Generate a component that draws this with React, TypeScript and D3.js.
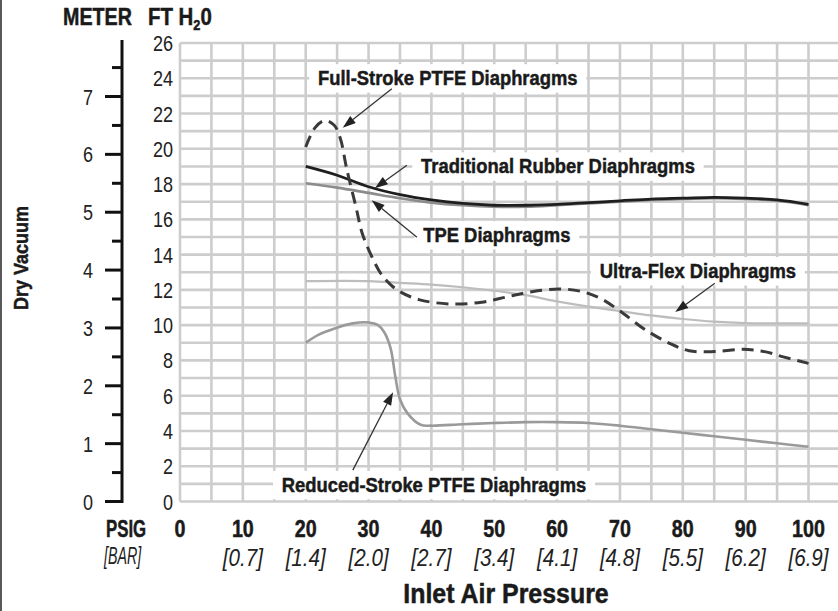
import React, { useEffect, useRef } from 'react';
import * as d3 from 'd3';

// Inlet air pressure (PSIG) vs dry vacuum (FT H2O)
const traditionalPsi = [20, 25, 30, 35, 40, 45, 50, 55, 60, 65, 70, 75, 80, 85, 90, 95, 100];
const traditionalFt = [19.0, 18.5, 17.85, 17.4, 17.1, 16.9, 16.8, 16.8, 16.85, 16.95, 17.05, 17.15, 17.2, 17.25, 17.2, 17.1, 16.85];

const tpePsi = [20, 25, 30, 35, 40, 45, 50, 55, 60, 65, 70, 75, 80, 85, 90, 95, 100];
const tpeFt = [18.05, 17.8, 17.5, 17.2, 16.95, 16.8, 16.72, 16.72, 16.8, 16.9, 17.0, 17.1, 17.15, 17.2, 17.15, 17.05, 16.8];

const fullStrokePsi = [20, 21.5, 23, 24.5, 25.5, 26.5, 28, 29, 30.5, 32, 33.5, 35, 38, 43, 48, 52, 56, 60.5, 64, 67, 70, 74, 78, 81, 85, 89.5, 93, 96, 100];
const fullStrokeFt = [20.1, 21.2, 21.6, 21.35, 20.6, 18.9, 16.7, 15.2, 13.9, 12.9, 12.3, 11.9, 11.45, 11.2, 11.3, 11.6, 11.9, 12.05, 11.9, 11.5, 10.8, 9.75, 8.95, 8.55, 8.5, 8.63, 8.5, 8.2, 7.83];

const ultraFlexPsi = [20, 30, 35, 40, 45, 50, 55, 60, 65, 70, 75, 80, 85, 90, 95, 100];
const ultraFlexFt = [12.5, 12.5, 12.4, 12.3, 12.15, 11.95, 11.7, 11.35, 11.05, 10.8, 10.55, 10.35, 10.2, 10.12, 10.1, 10.1];

const reducedPsi = [20, 22, 24.5, 27.5, 30, 31.5, 32.5, 33.5, 34.3, 35, 36.2, 38.3, 40, 45, 50, 55, 60, 65, 70, 75, 80, 85, 90, 95, 100];
const reducedFt = [9.0, 9.45, 9.8, 10.1, 10.15, 10.0, 9.6, 8.7, 7.0, 5.8, 5.0, 4.35, 4.3, 4.38, 4.45, 4.5, 4.5, 4.45, 4.3, 4.1, 3.9, 3.7, 3.5, 3.3, 3.1];

const psiTicks = [0, 10, 20, 30, 40, 50, 60, 70, 80, 90, 100];
const barTicks = ['', '[0.7]', '[1.4]', '[2.0]', '[2.7]', '[3.4]', '[4.1]', '[4.8]', '[5.5]', '[6.2]', '[6.9]'];
const ftTicks = [0, 2, 4, 6, 8, 10, 12, 14, 16, 18, 20, 22, 24, 26];
const meterTicks = [0, 1, 2, 3, 4, 5, 6, 7];

const FT_PER_M = 3.28084;
const FONT = "'Liberation Sans', Arial, sans-serif";

const App: React.FC = () => {
  const svgRef = useRef<SVGSVGElement>(null);

  useEffect(() => {
    document.body.style.margin = '0';
    if (!svgRef.current) return;
    const width = 838;
    const height = 611;
    const svg = d3.select(svgRef.current);
    svg.selectAll('*').remove();

    const x = d3.scaleLinear().domain([0, 100]).range([180, 808.5]);
    const y = d3.scaleLinear().domain([0, 26]).range([501.5, 43]);
    const yM = d3.scaleLinear().domain([0, 26 / FT_PER_M]).range([501.5, 43]);

    svg.append('rect').attr('width', width).attr('height', height).attr('fill', '#fff');
    svg.append('line').attr('x1', 1).attr('x2', 1).attr('y1', 0).attr('y2', height).attr('stroke', '#222').attr('stroke-width', 1.5);

    const g = svg.append('g');

    // condensed look: plain Liberation Sans squeezed horizontally
    const txt = (parent: any, s: string | number, px: number, py: number, size: number, opts: any = {}) => {
      const t = parent.append('text')
        .attr('transform', `translate(${px},${py})${opts.rotate ? ' rotate(-90)' : ''} scale(${opts.sx || 0.84},1)`)
        .attr('font-family', FONT).attr('font-size', size)
        .attr('font-weight', opts.bold ? 'bold' : 'normal')
        .attr('font-style', opts.italic ? 'italic' : 'normal')
        .attr('text-anchor', opts.anchor || 'start')
        .attr('fill', opts.fill || '#1a1a1a')
        .text(s);
      if (opts.bold) t.attr('stroke', opts.fill || '#1a1a1a').attr('stroke-width', 0.5);
      return t;
    };

    // grid
    const grid = g.append('g').attr('stroke', '#cdcdcd').attr('stroke-width', 2.6);
    d3.range(0, 106, 5).forEach(p => {
      grid.append('line').attr('x1', x(p)).attr('x2', x(p)).attr('y1', y(26)).attr('y2', y(0));
    });
    d3.range(0, 27, 1).forEach(f => {
      grid.append('line').attr('x1', x(0)).attr('x2', width).attr('y1', y(f)).attr('y2', y(f));
    });

    // series
    const line = d3.line<[number, number]>().x(d => x(d[0])).y(d => y(d[1])).curve(d3.curveCatmullRom.alpha(0.5));
    const zip = (a: number[], b: number[]) => a.map((v, i) => [v, b[i]] as [number, number]);

    const series = [
      { pts: zip(ultraFlexPsi, ultraFlexFt), color: '#bdbdbd', w: 2.2, dash: null },
      { pts: zip(reducedPsi, reducedFt), color: '#9a9a9a', w: 2.6, dash: null },
      { pts: zip(tpePsi, tpeFt), color: '#8c8c8c', w: 2.6, dash: null },
      { pts: zip(traditionalPsi, traditionalFt), color: '#1e1e1e', w: 2.8, dash: null },
      { pts: zip(fullStrokePsi, fullStrokeFt), color: '#3a3a3a', w: 3, dash: '12,7' },
    ];
    series.forEach(s => {
      const p = g.append('path').datum(s.pts)
        .attr('fill', 'none').attr('stroke', s.color).attr('stroke-width', s.w)
        .attr('stroke-linecap', 'butt').attr('d', line);
      if (s.dash) p.attr('stroke-dasharray', s.dash);
    });

    // annotations: text anchor and arrow in data coords
    const notes = [
      { text: 'Full-Stroke PTFE Diaphragms', at: [21.96, 23.6], from: [33.7, 23.4], to: [25.9, 21.2] },
      { text: 'Traditional Rubber Diaphragms', at: [38.35, 18.6], from: [36.1, 19.07], to: [31.0, 17.76] },
      { text: 'TPE Diaphragms', at: [38.7, 14.7], from: [37.7, 14.99], to: [30.5, 17.08] },
      { text: 'Ultra-Flex Diaphragms', at: [66.8, 12.66], from: [85.1, 12.38], to: [78.8, 10.74] },
      { text: 'Reduced-Stroke PTFE Diaphragms', at: [16.2, 0.54], from: [27.5, 1.78], to: [33.9, 6.2] },
    ];
    const SX = 0.876;
    notes.forEach(n => {
      const ng = g.append('g').attr('transform', `translate(${x(n.at[0])},${y(n.at[1])}) scale(${SX},1)`);
      const box = ng.append('rect').attr('fill', '#fff');
      const t = ng.append('text')
        .attr('font-family', FONT).attr('font-weight', 'bold').attr('font-size', 21)
        .attr('fill', '#1a1a1a').attr('stroke', '#1a1a1a').attr('stroke-width', 0.5).text(n.text);
      const bb = (t.node() as SVGTextElement).getBBox();
      box.attr('x', bb.x - 10).attr('y', bb.y - 2).attr('width', bb.width + 20).attr('height', bb.height + 5)
        .attr('stroke', 'none');

      const x1 = x(n.from[0]), y1 = y(n.from[1]), x2 = x(n.to[0]), y2 = y(n.to[1]);
      const ang = Math.atan2(y2 - y1, x2 - x1);
      const L = 13, hw = 4.5;
      const bx = x2 - L * Math.cos(ang), by = y2 - L * Math.sin(ang);
      g.append('line').attr('x1', x1).attr('y1', y1).attr('x2', bx).attr('y2', by)
        .attr('stroke', '#333').attr('stroke-width', 1.3);
      g.append('path')
        .attr('d', `M${x2},${y2} L${bx + hw * Math.sin(ang)},${by - hw * Math.cos(ang)} L${bx - hw * Math.sin(ang)},${by + hw * Math.cos(ang)} Z`)
        .attr('fill', '#222');
    });

    // FT H2O axis labels
    ftTicks.forEach(d => txt(g, d, 173, y(d) + 8, 22, { anchor: 'end', sx: 0.82, fill: '#222' }));

    // METER axis
    const mx = 122;
    g.append('line').attr('x1', mx).attr('x2', mx).attr('y1', 40).attr('y2', yM(0) + 1.5)
      .attr('stroke', '#111').attr('stroke-width', 3);
    d3.range(0, 8, 0.5).forEach(m => {
      const major = m % 1 === 0;
      g.append('line').attr('x1', major ? 105 : 112).attr('x2', mx).attr('y1', yM(m)).attr('y2', yM(m))
        .attr('stroke', '#111').attr('stroke-width', 3);
    });
    meterTicks.forEach(d => txt(g, d, 93, yM(d) + 8, 22, { anchor: 'end', sx: 0.82, fill: '#222' }));

    // X axis labels
    psiTicks.forEach(d => txt(g, d, x(d), 537, 24, { bold: true, anchor: 'middle', sx: 0.82 }));
    barTicks.forEach((d, i) => txt(g, d, x(psiTicks[i]), 566, 24, { italic: true, anchor: 'middle', sx: 0.86, fill: '#222' }));

    txt(g, 'PSIG', 106, 537, 24, { bold: true, sx: 0.7 });
    txt(g, '[BAR]', 104, 564, 23, { italic: true, sx: 0.62, fill: '#222' });
    txt(g, 'Inlet Air Pressure', 506, 603, 28, { bold: true, anchor: 'middle', sx: 0.89 });
    txt(g, 'METER', 63, 25, 24, { bold: true, sx: 0.82 });
    txt(g, 'Dry Vacuum', 28, 258, 20, { bold: true, anchor: 'middle', rotate: true, sx: 0.9 });

    const ft = txt(g, '', 148, 25, 24, { bold: true, sx: 0.85 });
    ft.append('tspan').text('FT H');
    ft.append('tspan').attr('font-size', 15).attr('dy', 5).text('2');
    ft.append('tspan').attr('dy', -5).text('0');
  }, []);

  return (
    <div style={{ width: 838, height: 611, overflow: 'hidden' }}>
      <svg ref={svgRef} width={838} height={611} style={{ display: 'block' }} />
    </div>
  );
};

export default App;
